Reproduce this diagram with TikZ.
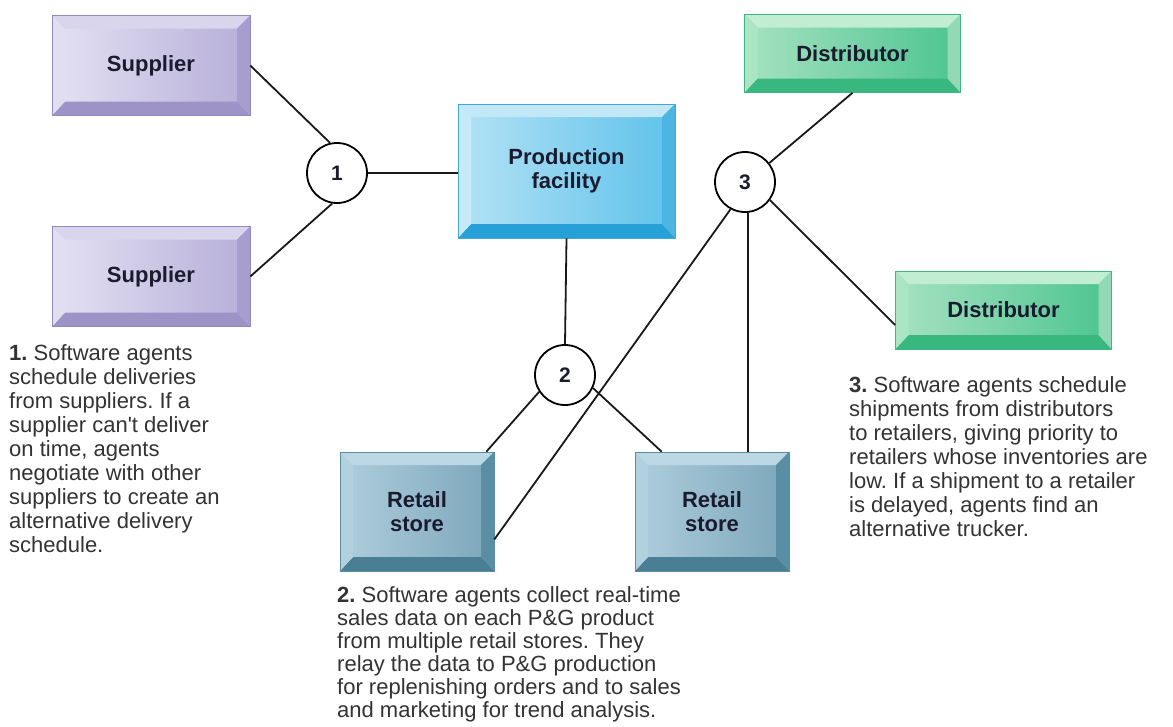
\documentclass[tikz,border=0pt]{standalone}
\usepackage{fontspec}
\setmainfont{Liberation Sans}
\usetikzlibrary{positioning}

\definecolor{labtext}{HTML}{1B1B30}
\definecolor{notetext}{HTML}{333333}
% supplier
\definecolor{supA}{HTML}{E4E1F3}\definecolor{supB}{HTML}{B6AED8}
\definecolor{supT}{HTML}{D9D5ED}\definecolor{supD}{HTML}{9E93C7}
\definecolor{supL}{HTML}{E2DEF1}\definecolor{supR}{HTML}{A79DCF}
\definecolor{supE}{HTML}{9289C1}
% production
\definecolor{plaA}{HTML}{B4E2F5}\definecolor{plaB}{HTML}{5EC2EA}
\definecolor{plaT}{HTML}{C2E8F7}\definecolor{plaD}{HTML}{27A0D8}
\definecolor{plaL}{HTML}{C6EAF8}\definecolor{plaR}{HTML}{4DB5E1}
\definecolor{plaE}{HTML}{3FA8D8}
% retail
\definecolor{retA}{HTML}{AECEDD}\definecolor{retB}{HTML}{7CA6BA}
\definecolor{retT}{HTML}{BCD8E4}\definecolor{retD}{HTML}{497E95}
\definecolor{retL}{HTML}{B2D1DF}\definecolor{retR}{HTML}{5A8EA5}
\definecolor{retE}{HTML}{5A8CA2}
% distributor
\definecolor{disA}{HTML}{A6E2C1}\definecolor{disB}{HTML}{4CC490}
\definecolor{disT}{HTML}{C1EDD3}\definecolor{disD}{HTML}{38B77F}
\definecolor{disL}{HTML}{AAE5C4}\definecolor{disR}{HTML}{93D9B5}
\definecolor{disE}{HTML}{3FB780}

\begin{document}
\frenchspacing
\begin{tikzpicture}[x=1pt,y=-1pt,
bevel/.style={rectangle,draw=#1E,line width=0.6pt,inner sep=0pt,align=center,
   font=\fontsize{22}{24}\selectfont\bfseries,text=labtext,
   path picture={
      \path (path picture bounding box.north west) coordinate (o1) ++(13pt,-13pt) coordinate (i1);
      \path (path picture bounding box.north east) coordinate (o2) ++(-13pt,-13pt) coordinate (i2);
      \path (path picture bounding box.south east) coordinate (o3) ++(-13pt,14pt) coordinate (i3);
      \path (path picture bounding box.south west) coordinate (o4) ++(13pt,14pt) coordinate (i4);
      \fill[left color=#1A,right color=#1B] (o1) rectangle (o3);
      \fill[#1T] (o1) -- (o2) -- (i2) -- (i1) -- cycle;
      \fill[#1D] (o4) -- (o3) -- (i3) -- (i4) -- cycle;
      \fill[#1L] (o1) -- (i1) -- (i4) -- (o4) -- cycle;
      \fill[#1R] (o2) -- (o3) -- (i3) -- (i2) -- cycle;
   }},
supplier/.style={bevel=sup,minimum width=198pt,minimum height=100pt},
plant/.style={bevel=pla,minimum width=217pt,minimum height=134pt},
store/.style={bevel=ret,minimum width=154pt,minimum height=119pt},
depot/.style={bevel=dis,minimum width=216pt,minimum height=78pt},
hub/.style={circle,draw=black,fill=white,line width=1.8pt,minimum size=60pt,inner sep=0pt,
   font=\fontsize{21}{24}\selectfont\bfseries,text=labtext},
link/.style={line width=1.8pt,draw=black!90},
note/.style={anchor=north west,inner sep=0pt,align=left,
   font=\fontsize{22}{24}\selectfont,text=notetext}]

\path[fill=white,use as bounding box] (0,0) rectangle (1173,726);

% boxes
\foreach \i/\y in {1/65.5,2/276.5} {
   \node[supplier] (sup\i) at (151,\y) {Supplier};
}
\node[plant] (plant) at (566.5,171) {Production\\facility};
\node[store] (ret1) at (417,511.5) {Retail\\store};
\node[store] (ret2) at (712,511.5) {Retail\\store};
\node[depot] (dist1) at (852.5,53.5) {Distributor};
\node[depot] (dist2) at (1003.5,310) {Distributor};

% agents
\foreach \i/\x/\y in {1/337/173,2/565/375,3/745/182} {
   \node[hub] (c\i) at (\x,\y) {\i};
}

% connectors
\draw[link] (sup1.east) -- (c1.103);
\draw[link] (sup2.east) -- (c1.261);
\draw[link] (c1.east) -- (c1.east -| plant.west);
\draw[link] (plant.south) -- (c2.north);
\draw[link] (c2.213) -- ([xshift=-8pt]ret1.north east);
\draw[link] (c2.335) -- ([xshift=27pt]ret2.north west);
\draw[link] (c3.242) -- ([yshift=-28pt]ret1.east);
\draw[link] ([xshift=3pt]c3.south) -- ([xshift=3pt]c3.south |- ret2.north);
\draw[link] (dist1.south) -- (c3.38);
\draw[link] (c3.324) -- ([yshift=-15pt]dist2.west);

% notes
\node[note] (note1) at (9,344) {\textbf{1.} Software agents\\schedule deliveries\\from suppliers. If a\\supplier can\textquotesingle t deliver\\on time, agents\\negotiate with other\\suppliers to create an\\alternative delivery\\schedule.};
\node[note,font=\fontsize{22}{23}\selectfont] (note2) at (337,586) {\textbf{2.} Software agents collect real-time\\sales data on each P\&G product\\from multiple retail stores. They\\relay the data to P\&G production\\for replenishing orders and to sales\\and marketing for trend analysis.};
\node[note] (note3) at (849,376) {\textbf{3.} Software agents schedule\\shipments from distributors\\to retailers, giving priority to\\retailers whose inventories are\\low. If a shipment to a retailer\\is delayed, agents find an\\alternative trucker.};
\end{tikzpicture}
\end{document}
